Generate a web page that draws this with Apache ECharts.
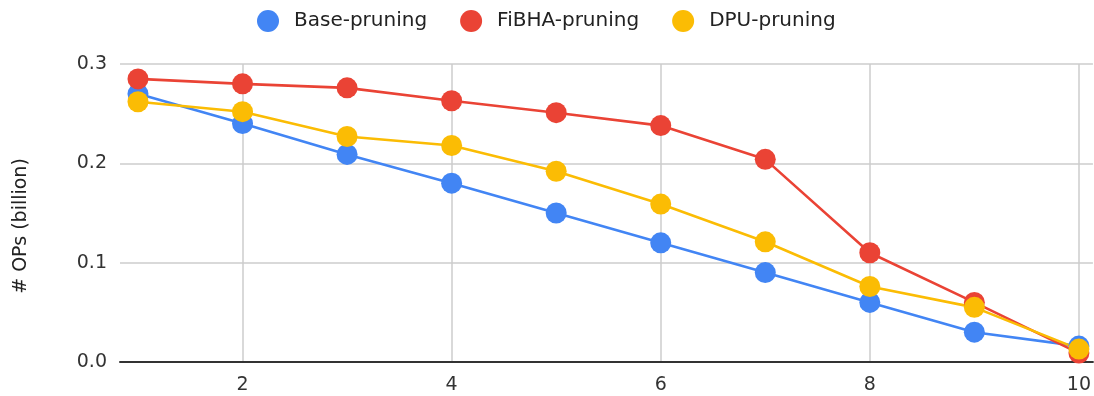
<!DOCTYPE html>
<html>
<head>
<meta charset="utf-8">
<script src="https://cdn.jsdelivr.net/npm/echarts@6/dist/echarts.min.js"></script>
<style>
  html, body { margin: 0; padding: 0; background: #fff; }
  #chart { width: 1094px; height: 396px; }
</style>
</head>
<body>
<div id="chart"></div>
<script>
// Pruning step on the x axis, operation count (billion) on the y axis
const steps = [1, 2, 3, 4, 5, 6, 7, 8, 9, 10];
const basePruning  = [0.270, 0.240, 0.209, 0.180, 0.150, 0.120, 0.090, 0.060, 0.030, 0.016];
const fibhaPruning = [0.285, 0.280, 0.276, 0.263, 0.251, 0.238, 0.204, 0.110, 0.060, 0.009];
const dpuPruning   = [0.262, 0.252, 0.227, 0.218, 0.192, 0.159, 0.121, 0.076, 0.055, 0.013];
const xTicks = [2, 4, 6, 8, 10];
const yTicks = [0, 0.1, 0.2, 0.3];

const FONT = 'DejaVu Sans';
const pairs = (vals) => steps.map((s, i) => [s, vals[i]]);

const mkSeries = (name, vals, color) => ({
  name,
  type: 'line',
  data: pairs(vals),
  symbol: 'circle',
  symbolSize: 21,
  lineStyle: { color, width: 2.6 },
  itemStyle: { color },
  emphasis: { disabled: true },
  animation: false
});

const chart = echarts.init(document.getElementById('chart'), null, { renderer: 'canvas' });
chart.setOption({
  animation: false,
  legend: {
    top: 5,
    left: 252,
    itemWidth: 22,
    itemHeight: 22,
    itemGap: 33,
    icon: 'circle',
    textStyle: { fontFamily: FONT, fontSize: 20, color: '#222', padding: [0, 0, 0, 10] },
    data: ['Base-pruning', 'FiBHA-pruning', 'DPU-pruning']
  },
  grid: { left: 120, right: 0, top: 64, bottom: 34, containLabel: false },
  xAxis: {
    type: 'value',
    min: 0.828,
    max: 10.134,
    axisLine: { show: true, lineStyle: { color: '#333', width: 2 } },
    axisTick: { show: false, customValues: xTicks },
    axisLabel: {
      customValues: xTicks,
      fontFamily: FONT, fontSize: 19, color: '#333', margin: 14
    },
    splitLine: { show: true, lineStyle: { color: '#cccccc', width: 1.5 } }
  },
  yAxis: {
    type: 'value',
    min: yTicks[0],
    max: yTicks[yTicks.length - 1],
    interval: 0.1,
    name: '# OPs (billion)',
    nameLocation: 'middle',
    nameGap: 89,
    nameTextStyle: { fontFamily: FONT, fontSize: 19, color: '#222', padding: [0, 26, 0, 0] },
    axisLine: { show: false },
    axisTick: { show: false },
    axisLabel: {
      fontFamily: FONT, fontSize: 19, color: '#333', margin: 13,
      formatter: (v) => v.toFixed(1)
    },
    splitLine: { show: true, lineStyle: { color: '#cccccc', width: 1.5 } }
  },
  series: [
    mkSeries('Base-pruning', basePruning, '#4285F4'),
    mkSeries('FiBHA-pruning', fibhaPruning, '#EA4335'),
    mkSeries('DPU-pruning', dpuPruning, '#FBBC04')
  ]
});
</script>
</body>
</html>
